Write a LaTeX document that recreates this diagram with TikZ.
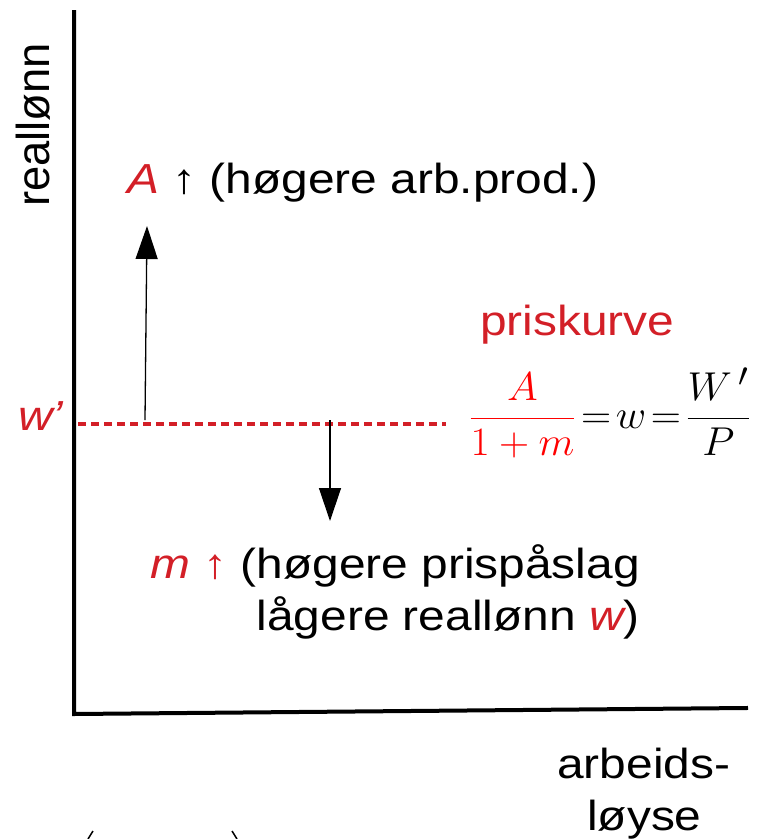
\documentclass[tikz,border=0pt]{standalone}
\usepackage{fontspec}
\usepackage{graphicx}
\setmainfont{Liberation Sans}
\usetikzlibrary{arrows.meta}
\definecolor{myred}{RGB}{211,31,39}
\definecolor{fred}{RGB}{255,0,0}
\newcommand{\sx}[1]{\scalebox{1.14}[1]{#1}}
\tikzset{
  lbl/.style={inner sep=0pt, font=\fontsize{42}{48}\selectfont},
  axis/.style={line width=4pt, line cap=rect},
  upa/.style={line width=1.3pt, -{Triangle[length=33pt,width=22pt]}},
}
\begin{document}
\begin{tikzpicture}[x=1pt,y=-1pt]
\useasboundingbox (0,0) rectangle (756,839);
% axes
\coordinate (top) at (74,12);
\coordinate (origin) at (74,714);
\coordinate (xend) at (746,708);
\draw[axis] (top) -- (origin) -- (xend);
% axis labels
\node[lbl, rotate=90] (ylab) at (33,125) {\scalebox{1.08}[1.1]{reallønn}};
\node[lbl, anchor=base west] (xlab1) at (557,778) {\sx{arbeids-}};
\node[lbl, anchor=base west] (xlab2) at (587,830) {\sx{løyse}};
% price curve
\coordinate (d1) at (78,424);
\coordinate (d2) at (446,424);
\draw[myred, line width=3.5pt, dash pattern=on 8pt off 5pt] (d1) -- (d2);
\node[lbl, text=myred, font=\fontsize{42}{48}\selectfont\itshape] (wlab) at (41,416) {\sx{w’}};
\node[lbl, text=myred, anchor=base west] (pk) at (480,335) {\sx{priskurve}};
\node[inner sep=0pt, font=\fontsize{24.88}{30}\selectfont] (formula) at (610,413)
  {\scalebox{1.68}[1.62]{$\displaystyle {\color{fred}\frac{A}{1+m}}\!=\!w\!=\!\frac{W\,'}{P}$}};
% arrows
\coordinate (ua1) at (145,420);
\coordinate (ua2) at (147,226);
\draw[upa] (ua1) -- (ua2);
\coordinate (da1) at (330,420);
\coordinate (da2) at (330,521);
\draw[upa] (da1) -- (da2);
% texts
\node[lbl, anchor=base west] (atext) at (127,193) {\sx{\textcolor{myred}{\itshape A} ↑ (høgere arb.prod.)}};
\node[lbl, anchor=base west] (mtext) at (150,578) {\sx{\textcolor{myred}{\itshape m ↑} (høgere prispåslag}};
\node[lbl, anchor=base east] (ltext) at (640,630) {\sx{lågere reallønn \textcolor{myred}{\itshape w})}};
% fragments at bottom
\coordinate (f1) at (88,839);
\coordinate (f2) at (93,831);
\draw[line width=1.5pt] (f1) -- (f2);
\coordinate (f3) at (232,831);
\coordinate (f4) at (237,839);
\draw[line width=1.5pt] (f3) -- (f4);
\end{tikzpicture}
\end{document}
